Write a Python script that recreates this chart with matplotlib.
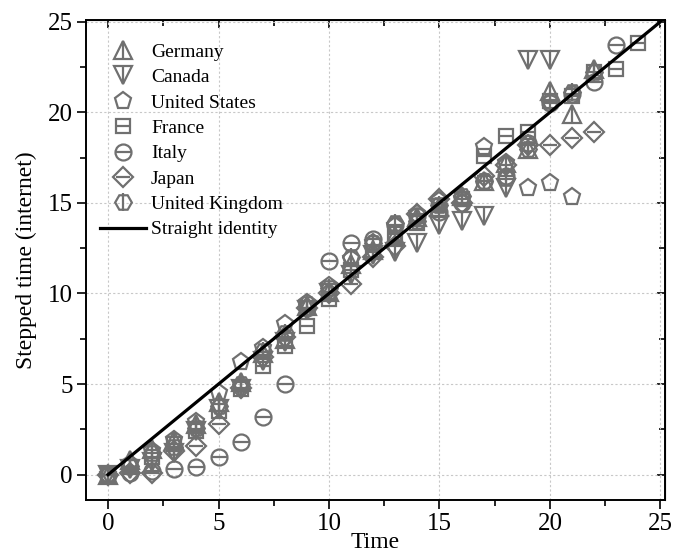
import matplotlib
matplotlib.use("Agg")
import matplotlib.pyplot as plt
from matplotlib.ticker import MultipleLocator

plt.rcParams["font.family"] = ["Liberation Serif", "DejaVu Serif"]

# stepped time per country, index = time step
germany = [0, 0.8, 1.4, 1.9, 2.8, 4.0, 5.1, 6.7, 7.5, 9.3, 10.1, 11.6, 12.4,
           13.2, 14.2, 14.8, 15.4, 16.2, 17.2, 18.0, 21.2, 19.9, 22.4]
canada = [0, 0.3, 0.7, 1.2, 2.4, 3.6, 4.7, 6.3, 7.3, 9.1, 10.0, 11.0, 12.1,
          12.3, 12.8, 13.8, 14.0, 14.3, 15.8, 22.9, 22.9]
united_states = [0, 0.6, 1.3, 1.9, 2.9, 4.5, 6.2, 7.0, 8.3, 9.5, 10.4, 11.9,
                 12.8, 13.7, 14.4, 15.1, 15.2, 18.1, 17.2, 15.8, 16.1, 15.3]
france = [0, 0.4, 1.0, 1.7, 2.4, 3.5, 4.7, 6.0, 7.1, 8.2, 9.7, 11.3, 12.3,
          13.3, 13.9, 14.6, 15.2, 17.6, 18.7, 18.9, 20.6, 20.9, 22.2, 22.4, 23.8]
italy = [0, 0.1, 0.2, 0.3, 0.4, 1.0, 1.8, 3.2, 5.0, 9.2, 11.8, 12.8, 13.0,
         13.8, 14.3, 14.5, 15.0, 16.2, 16.5, 18.3, 20.5, 21.0, 21.7, 23.7]
japan = [0, 0.1, 0.1, 1.3, 1.6, 2.8, 4.8, 6.5, 7.6, 9.2, 10.0, 10.5, 12.0,
         12.6, 14.4, 15.2, 15.0, 16.5, 17.1, 18.2, 18.2, 18.6, 18.9]
united_kingdom = [0, 0.5, 1.2, 1.5, 2.6, 3.8, 5.0, 6.8, 7.8, 9.4, 10.3, 12.0,
                  12.8, 13.9, 14.0, 14.9, 15.4, 16.2, 16.4, 18.0, 20.6, 21.1, 22.2]

identity_x = [0, 25]
identity_y = [0, 25]

# name, values, marker, bar through marker, marker size
series = [
    ("Germany", germany, "^", "|", 12.5),
    ("Canada", canada, "v", "|", 12.5),
    ("United States", united_states, "p", None, 12.5),
    ("France", france, "s", "_", 9.5),
    ("Italy", italy, "o", "_", 11.5),
    ("Japan", japan, "D", "_", 10),
    ("United Kingdom", united_kingdom, "H", "|", 12),
]

GREY = "#707070"

fig = plt.figure(figsize=(6.77, 5.54), dpi=100)
ax = fig.add_axes([0.127, 0.0975, 0.855, 0.8665])

handles, labels = [], []
for name, vals, mk, bar, sz in series:
    t = list(range(len(vals)))
    h1, = ax.plot(t, vals, ls="none", marker=mk, ms=sz, mfc="none",
                  mec=GREY, mew=1.6)
    hs = h1
    if bar:
        h2, = ax.plot(t, vals, ls="none", marker=bar,
                      ms=sz + 0.5 if bar == "|" else sz,
                      mec=GREY, mew=1.6)
        hs = (h1, h2)
    handles.append(hs)
    labels.append(name)

hl, = ax.plot(identity_x, identity_y, color="black", lw=2.3)
handles.append(hl)
labels.append("Straight identity")

ax.set_xlim(-1, 25.2)
ax.set_ylim(-1.4, 25.1)
ax.xaxis.set_major_locator(MultipleLocator(5))
ax.xaxis.set_minor_locator(MultipleLocator(2.5))
ax.yaxis.set_major_locator(MultipleLocator(5))
ax.yaxis.set_minor_locator(MultipleLocator(2.5))
ax.grid(True, which="major", ls=(0, (2, 2)), color="#c8c8c8", lw=0.8)
ax.set_axisbelow(True)

ax.tick_params(which="both", direction="out", labelsize=18, width=1.2, pad=3)
ax.tick_params(which="major", length=6.5)
ax.tick_params(which="minor", length=4)
for s in ax.spines.values():
    s.set_linewidth(1.4)

# inward ticks on the top and right
axt = ax.secondary_xaxis("top")
axt.xaxis.set_major_locator(MultipleLocator(5))
axt.xaxis.set_minor_locator(MultipleLocator(2.5))
axt.tick_params(which="both", direction="in", labeltop=False, width=1.2)
axt.tick_params(which="major", length=6)
axt.tick_params(which="minor", length=4)
axr = ax.secondary_yaxis("right")
axr.yaxis.set_major_locator(MultipleLocator(5))
axr.yaxis.set_minor_locator(MultipleLocator(2.5))
axr.tick_params(which="both", direction="in", labelright=False, width=1.2)
axr.tick_params(which="major", length=6)
axr.tick_params(which="minor", length=4)

ax.set_xlabel("Time", fontsize=17, labelpad=-2)
ax.set_ylabel("Stepped time (internet)", fontsize=17, labelpad=8)

ax.legend(handles, labels, loc="upper left", frameon=False, fontsize=14,
          handlelength=2.4, handletextpad=0.25, labelspacing=0.4,
          borderaxespad=0.3, bbox_to_anchor=(0.0, 0.98))

fig.savefig("out.png", dpi=100)
